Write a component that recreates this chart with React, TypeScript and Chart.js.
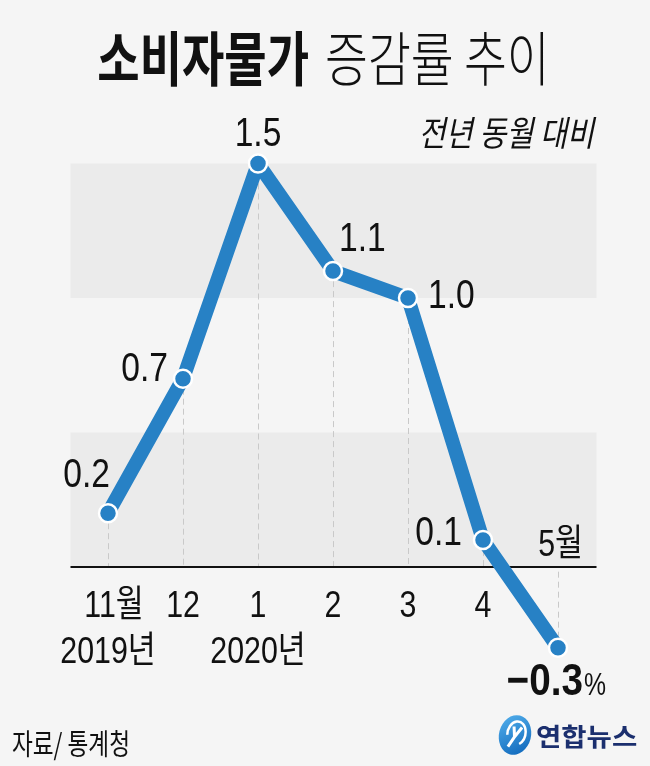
import React, { useEffect, useRef } from "react";
import { Chart, registerables } from "chart.js";

Chart.register(...registerables);

// ---------- data ----------
const monthLabels = ["11월", "12", "1", "2", "3", "4", "5월"];
const yearLabels = ["2019년", "", "2020년", "", "", "", ""];
const cpiChange = [0.2, 0.7, 1.5, 1.1, 1.0, 0.1, -0.3];
const valueTexts = ["0.2", "0.7", "1.5", "1.1", "1.0", "0.1", "−0.3"];
const bandRanges = [
  [0, 0.5],
  [1.0, 1.5],
];
const titleBold = "소비자물가";
const titleRegular = "증감률 추이";
const subtitleText = "전년 동월 대비";
const unitText = "%";
const sourceText = "자료/ 통계청";
const logoText = "연합뉴스";

// ---------- styles ----------
const BG = "#f5f5f5";
const BAND = "#ebebeb";
const BLUE = "#2781c5";
const INK = "#111111";
const NUM_FONT = "'Liberation Sans', Arial, 'Noto Sans CJK KR', sans-serif";
const KR_FONT = "'Noto Sans CJK KR', 'Noto Sans', sans-serif";

// label placement: offset from the point, alignment
const labelPlace: { dx: number; dy: number; align: CanvasTextAlign }[] = [
  { dx: 2, dy: -26, align: "right" },
  { dx: -15, dy: 2, align: "right" },
  { dx: 0, dy: -18, align: "center" },
  { dx: 6, dy: -20, align: "left" },
  { dx: 20, dy: 10, align: "left" },
  { dx: -21, dy: 5, align: "right" },
  { dx: 25, dy: 47, align: "right" },
];

function txt(
  ctx: CanvasRenderingContext2D,
  s: string,
  x: number,
  y: number,
  font: string,
  align: CanvasTextAlign,
  sx = 1,
  color = INK
) {
  ctx.save();
  ctx.font = font;
  ctx.fillStyle = color;
  ctx.textBaseline = "alphabetic";
  ctx.textAlign = align;
  ctx.translate(x, y);
  ctx.scale(sx, 1);
  ctx.fillText(s, 0, 0);
  ctx.restore();
}

const decorPlugin = {
  id: "decor",
  beforeDraw(chart: any) {
    const { ctx, width, height } = chart;
    const xs = chart.scales.x;
    const ys = chart.scales.y;
    ctx.save();
    ctx.fillStyle = BG;
    ctx.fillRect(0, 0, width, height);
    const step = xs.getPixelForValue(1) - xs.getPixelForValue(0);
    const left = xs.getPixelForValue(0) - step / 2;
    const right = xs.getPixelForValue(monthLabels.length - 1) + step / 2 + 1;
    ctx.fillStyle = BAND;
    for (const [a, b] of bandRanges) {
      const y1 = ys.getPixelForValue(b);
      const y0 = ys.getPixelForValue(a);
      ctx.fillRect(left, y1, right - left, y0 - y1);
    }
    ctx.restore();
  },
  beforeDatasetsDraw(chart: any) {
    const { ctx } = chart;
    const xs = chart.scales.x;
    const ys = chart.scales.y;
    const y0 = ys.getPixelForValue(0);
    ctx.save();
    ctx.strokeStyle = "#c9c9c9";
    ctx.lineWidth = 1;
    ctx.setLineDash([6, 4]);
    cpiChange.forEach((v, i) => {
      const x = Math.round(xs.getPixelForValue(i)) + 0.5;
      ctx.beginPath();
      ctx.moveTo(x, ys.getPixelForValue(v));
      ctx.lineTo(x, y0);
      ctx.stroke();
    });
    ctx.setLineDash([]);
    const step = xs.getPixelForValue(1) - xs.getPixelForValue(0);
    const left = xs.getPixelForValue(0) - step / 2;
    const right = xs.getPixelForValue(monthLabels.length - 1) + step / 2 + 1;
    ctx.strokeStyle = "#111";
    ctx.lineWidth = 2;
    ctx.beginPath();
    ctx.moveTo(left, y0);
    ctx.lineTo(right, y0);
    ctx.stroke();
    ctx.restore();
  },
  afterDraw(chart: any) {
    const { ctx } = chart;
    const xs = chart.scales.x;
    const ys = chart.scales.y;
    const last = monthLabels.length - 1;

    // title
    txt(ctx, titleBold, 309, 81, `700 59px ${KR_FONT}`, "right", 0.78);
    txt(ctx, titleRegular, 325, 81, `300 59px ${KR_FONT}`, "left", 0.79);
    // subtitle
    txt(ctx, subtitleText, 594, 146, `italic 400 35px ${KR_FONT}`, "right", 0.84);

    // x tick labels
    monthLabels.forEach((m, i) => {
      const x = xs.getPixelForValue(i);
      if (i === last) {
        txt(ctx, m, x + 25, 556, `400 37px ${NUM_FONT}`, "right", 0.82);
      } else {
        txt(ctx, m, x + (i === 0 ? 6 : 0), 617, `400 37px ${NUM_FONT}`, "center", 0.82);
      }
      if (yearLabels[i]) {
        txt(ctx, yearLabels[i], x, 663, `400 37px ${NUM_FONT}`, "center", 0.82);
      }
    });

    // value labels
    cpiChange.forEach((v, i) => {
      const x = xs.getPixelForValue(i);
      const y = ys.getPixelForValue(v);
      const p = labelPlace[i];
      if (i === last) {
        txt(ctx, valueTexts[i], x + p.dx, y + p.dy, `700 45px ${NUM_FONT}`, "right", 0.86);
        txt(ctx, unitText, x + p.dx + 1, y + p.dy, `400 31px ${NUM_FONT}`, "left", 0.8);
      } else {
        txt(ctx, valueTexts[i], x + p.dx, y + p.dy, `400 40px ${NUM_FONT}`, p.align, 0.84);
      }
    });

    // source
    txt(ctx, sourceText, 12, 755, `400 29px ${KR_FONT}`, "left", 0.78);

    // logo
    ctx.save();
    ctx.translate(515, 735);
    ctx.rotate(0.25);
    const g = ctx.createLinearGradient(-17, -20, 17, 20);
    g.addColorStop(0, "#56b3ee");
    g.addColorStop(1, "#0a62b8");
    ctx.fillStyle = g;
    ctx.beginPath();
    ctx.ellipse(0, 0, 16, 20, 0, 0, Math.PI * 2);
    ctx.fill();
    ctx.strokeStyle = "#ffffff";
    ctx.lineWidth = 2.5;
    ctx.beginPath();
    ctx.ellipse(1, -2, 9, 12, 0, Math.PI * 0.9, Math.PI * 2.3);
    ctx.stroke();
    ctx.lineWidth = 3;
    ctx.beginPath();
    ctx.moveTo(-3, -8);
    ctx.lineTo(0, 2);
    ctx.lineTo(5, -9);
    ctx.moveTo(0, 2);
    ctx.lineTo(-4, 13);
    ctx.stroke();
    ctx.restore();
    txt(ctx, logoText, 536, 746, `700 25px ${KR_FONT}`, "left", 1.1, "#1b2f6e");
  },
};

export default function App() {
  const ref = useRef<HTMLCanvasElement | null>(null);
  useEffect(() => {
    if (!ref.current) return;
    const chart = new Chart(ref.current, {
      type: "line",
      data: {
        labels: monthLabels,
        datasets: [
          {
            data: cpiChange,
            borderColor: BLUE,
            borderWidth: 14,
            borderJoinStyle: "round",
            borderCapStyle: "round",
            pointRadius: 9,
            pointBackgroundColor: BLUE,
            pointBorderColor: "#ffffff",
            pointBorderWidth: 2.5,
            tension: 0,
            clip: false as any,
          },
        ],
      },
      options: {
        animation: false,
        responsive: false,
        devicePixelRatio: 1,
        layout: { padding: { left: 108, right: 92, top: 136.6, bottom: 91.4 } },
        scales: {
          x: { display: false, offset: false },
          y: { display: false, min: -0.4, max: 1.6 },
        },
        plugins: { legend: { display: false }, tooltip: { enabled: false } },
      },
      plugins: [decorPlugin],
    });
    return () => chart.destroy();
  }, []);
  return (
    <div style={{ position: "fixed", left: 0, top: 0, width: 650, height: 766, background: BG }}>
      <canvas ref={ref} width={650} height={766} style={{ display: "block", width: 650, height: 766 }} />
    </div>
  );
}
